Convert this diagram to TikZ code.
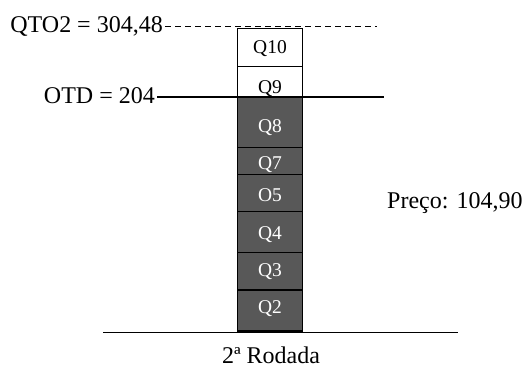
\documentclass[tikz,border=0pt]{standalone}
\usepackage{fontspec}
\setmainfont{Liberation Serif}
\definecolor{qgray}{HTML}{585858}
\begin{document}
\begin{tikzpicture}[x=1pt,y=-1pt,
  wbox/.style={draw=black,line width=1.4pt,fill=white},
  gbox/.style={draw=black,line width=1.4pt,fill=qgray},
  wlab/.style={font=\fontsize{19.5}{19.5}\selectfont,text=black,inner sep=0pt},
  glab/.style={font=\fontsize{19.5}{19.5}\selectfont,text=white,inner sep=0pt},
  outer/.style={font=\fontsize{24}{24}\selectfont,inner sep=0pt},
  hline/.style={line width=1.1pt}]
\useasboundingbox (0,0) rectangle (525,371);
% top dashed line and label
\node[outer,anchor=base east] (qto) at (163,33) {QTO2 = 304,48};
\coordinate (qtostart) at (165,26.5);
\coordinate (qtoend) at (377,26.5);
\draw[hline,dash pattern=on 6pt off 4pt] (qtostart) -- (qtoend);
% boxes
\draw[wbox] (237.5,28.5) rectangle (302.5,66.5);
\node[wlab] (q10) at (270,49) {Q10};
\draw[wbox] (237.5,66.5) rectangle (302.5,97);
\node[wlab] (q9) at (270,88.5) {Q9};
\draw[gbox] (237.5,97) rectangle (302.5,147.3);
\node[glab] (q8) at (270,128) {Q8};
\draw[gbox] (237.5,147.3) rectangle (302.5,174.3);
\node[glab] (q7) at (270,165) {Q7};
\draw[gbox] (237.5,174.3) rectangle (302.5,211.7);
\node[glab] (o5) at (270,195) {O5};
\draw[gbox] (237.5,211.7) rectangle (302.5,252.7);
\node[glab] (q4) at (270,235) {Q4};
\draw[gbox] (237.5,252.7) rectangle (302.5,290);
\node[glab] (q3) at (270,272) {Q3};
\draw[gbox] (237.5,290) rectangle (302.5,331);
\node[glab] (q2) at (270,309) {Q2};
% OTD line
\node[outer,anchor=base east] (otd) at (155,104) {OTD = 204};
\coordinate (otdstart) at (157,97);
\coordinate (otdend) at (384,97);
\draw[hline] (otdstart) -- (otdend);
\draw[line width=2pt] (237.5,97) -- (302.5,97);
% price
\node[outer,anchor=base west] (preco) at (387,209) {Preço: 104,90};
% baseline
\coordinate (bl) at (103,332.5);
\coordinate (br) at (458,332.5);
\draw[hline] (bl) -- (br);
\node[outer,anchor=base] (rod) at (271,363) {2ª Rodada};
\end{tikzpicture}
\end{document}
